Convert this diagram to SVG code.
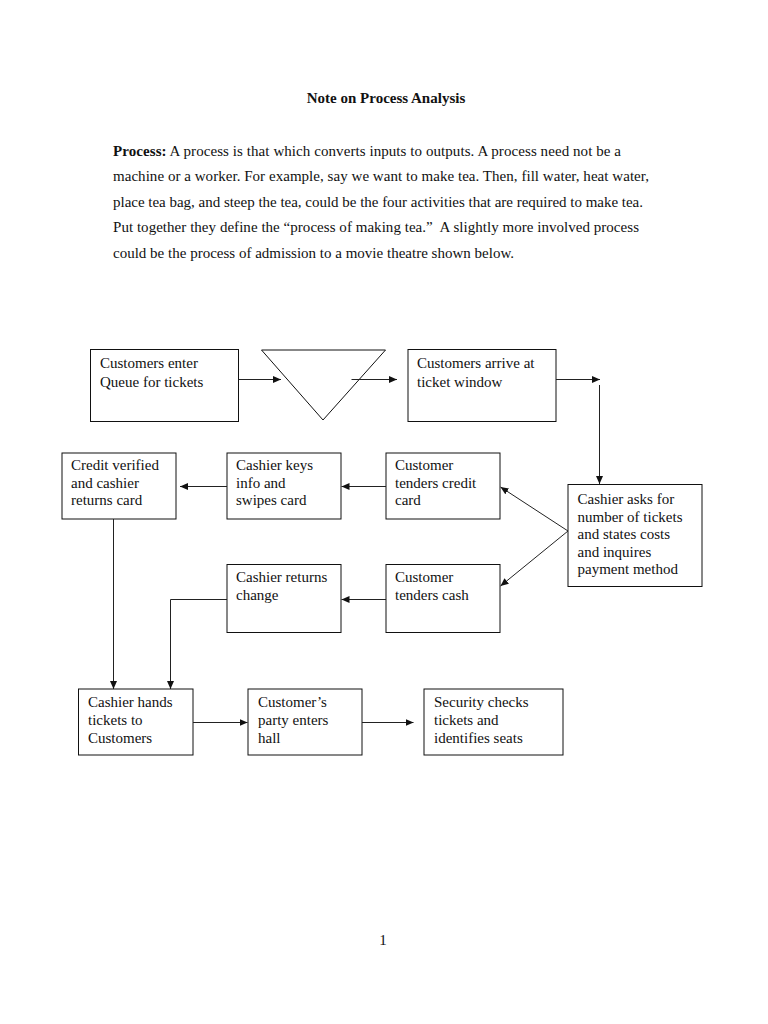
<svg xmlns="http://www.w3.org/2000/svg" width="768" height="1024" viewBox="0 0 768 1024">
<style>
text{font-family:"Liberation Serif","Times New Roman",serif;font-size:15px;fill:#111}
.title{font-weight:bold}
.box{fill:#fff;stroke:#111;stroke-width:1}
.conn{fill:none;stroke:#222;stroke-width:1}
</style>
<defs>
<marker id="ah" markerUnits="userSpaceOnUse" markerWidth="9" markerHeight="7" refX="8" refY="3.5" orient="auto">
<path d="M0,0 L8,3.5 L0,7 z" fill="#111"/>
</marker>
</defs>
<rect width="768" height="1024" fill="#fff"/>

<g id="heading">
<text class="title" x="386" y="103" text-anchor="middle">Note on Process Analysis</text>
<text x="113" y="156" textLength="508" lengthAdjust="spacing"><tspan font-weight="bold">Process:</tspan> A process is that which converts inputs to outputs. A process need not be a</text>
<text x="113" y="181" textLength="536" lengthAdjust="spacing">machine or a worker. For example, say we want to make tea. Then, fill water, heat water,</text>
<text x="113" y="206.5" textLength="530" lengthAdjust="spacing">place tea bag, and steep the tea, could be the four activities that are required to make tea.</text>
<text x="113" y="232" textLength="526" lengthAdjust="spacing">Put together they define the “process of making tea.”&#160; A slightly more involved process</text>
<text x="113" y="257.5" textLength="401" lengthAdjust="spacing">could be the process of admission to a movie theatre shown below.</text>
</g>

<g id="n-queue-enter">
<rect class="box" x="90.5" y="349.5" width="148" height="72"/>
<text x="100" y="368">Customers enter</text>
<text x="100" y="386.5">Queue for tickets</text>
</g>
<g id="n-queue">
<polygon class="box" points="261.5,350 385.5,350 323,420"/>
</g>
<g id="n-window">
<rect class="box" x="408" y="349.5" width="148" height="72"/>
<text x="417" y="368">Customers arrive at</text>
<text x="417" y="386.5">ticket window</text>
</g>
<g id="n-cashier-asks">
<rect class="box" x="568" y="484.5" width="134" height="102"/>
<text x="577.5" y="504">Cashier asks for</text>
<text x="577.5" y="521.5">number of tickets</text>
<text x="577.5" y="539">and states costs</text>
<text x="577.5" y="556.5">and inquires</text>
<text x="577.5" y="574">payment method</text>
</g>
<g id="n-credit-card">
<rect class="box" x="386" y="453" width="114" height="66"/>
<text x="395" y="470">Customer</text>
<text x="395" y="487.5">tenders credit</text>
<text x="395" y="505">card</text>
</g>
<g id="n-keys">
<rect class="box" x="227" y="453" width="114" height="66"/>
<text x="236" y="470">Cashier keys</text>
<text x="236" y="487.5">info and</text>
<text x="236" y="505">swipes card</text>
</g>
<g id="n-credit-verified">
<rect class="box" x="62" y="453" width="114" height="66"/>
<text x="71" y="470">Credit verified</text>
<text x="71" y="487.5">and cashier</text>
<text x="71" y="505">returns card</text>
</g>
<g id="n-cash">
<rect class="box" x="386" y="564.5" width="114" height="68"/>
<text x="395" y="582">Customer</text>
<text x="395" y="599.5">tenders cash</text>
</g>
<g id="n-change">
<rect class="box" x="227" y="564.5" width="114" height="68"/>
<text x="236" y="582">Cashier returns</text>
<text x="236" y="599.5">change</text>
</g>
<g id="n-hands">
<rect class="box" x="78.5" y="689" width="114.5" height="66"/>
<text x="88" y="707">Cashier hands</text>
<text x="88" y="725">tickets to</text>
<text x="88" y="743">Customers</text>
</g>
<g id="n-party">
<rect class="box" x="248" y="689" width="114" height="66"/>
<text x="258" y="707">Customer’s</text>
<text x="258" y="725">party enters</text>
<text x="258" y="743">hall</text>
</g>
<g id="n-security">
<rect class="box" x="424" y="689" width="139" height="66"/>
<text x="434" y="707">Security checks</text>
<text x="434" y="725">tickets and</text>
<text x="434" y="743">identifies seats</text>
</g>

<g id="connectors">
<line class="conn" x1="238.5" y1="379.5" x2="281" y2="379.5" marker-end="url(#ah)"/>
<line class="conn" x1="351.5" y1="379.5" x2="397" y2="379.5" marker-end="url(#ah)"/>
<line class="conn" x1="556" y1="379.5" x2="600" y2="379.5" marker-end="url(#ah)"/>
<line class="conn" x1="599.5" y1="385" x2="599.5" y2="484" marker-end="url(#ah)"/>
<line class="conn" x1="568" y1="531" x2="500.5" y2="487" marker-end="url(#ah)"/>
<line class="conn" x1="568" y1="531" x2="500.5" y2="586" marker-end="url(#ah)"/>
<line class="conn" x1="386" y1="486.5" x2="341.5" y2="486.5" marker-end="url(#ah)"/>
<line class="conn" x1="227" y1="486.5" x2="180" y2="486.5" marker-end="url(#ah)"/>
<line class="conn" x1="386" y1="599.5" x2="341.5" y2="599.5" marker-end="url(#ah)"/>
<line class="conn" x1="113.5" y1="519" x2="113.5" y2="689" marker-end="url(#ah)"/>
<polyline class="conn" points="227,599.5 170.5,599.5 170.5,689" marker-end="url(#ah)"/>
<line class="conn" x1="193" y1="722.5" x2="247.5" y2="722.5" marker-end="url(#ah)"/>
<line class="conn" x1="362" y1="722.5" x2="413.5" y2="722.5" marker-end="url(#ah)"/>
</g>

<text x="383" y="945" text-anchor="middle">1</text>
</svg>
